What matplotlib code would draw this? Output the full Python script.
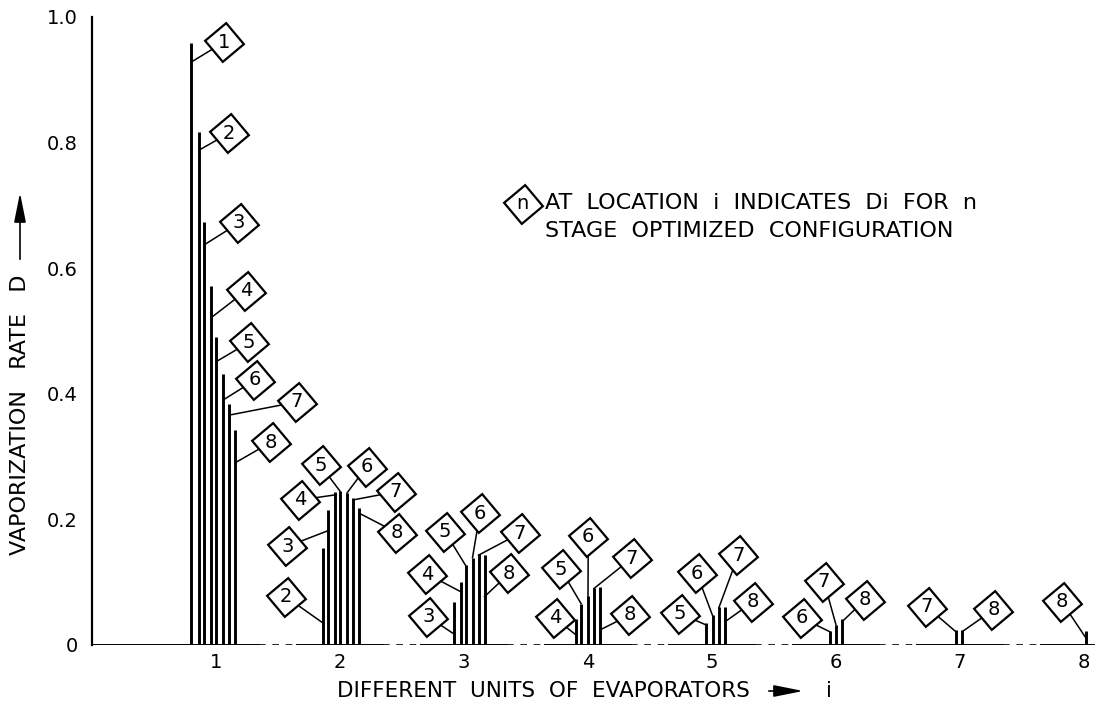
import matplotlib
matplotlib.use("Agg")
import matplotlib.pyplot as plt
from matplotlib.patches import FancyArrowPatch

# D_i for the n-stage optimized configuration (i = 1..n)
D_N1 = [0.959]
D_N2 = [0.817, 0.154]
D_N3 = [0.674, 0.215, 0.069]
D_N4 = [0.572, 0.244, 0.101, 0.042]
D_N5 = [0.490, 0.245, 0.127, 0.066, 0.035]
D_N6 = [0.432, 0.242, 0.139, 0.078, 0.047, 0.022]
D_N7 = [0.384, 0.234, 0.145, 0.090, 0.060, 0.032, 0.024]
D_N8 = [0.342, 0.218, 0.143, 0.093, 0.061, 0.042, 0.024, 0.022]
STAGES = [1, 2, 3, 4, 5, 6, 7, 8]
D_VALUES = [D_N1, D_N2, D_N3, D_N4, D_N5, D_N6, D_N7, D_N8]

X_TICKS = [1, 2, 3, 4, 5, 6, 7, 8]
Y_TICKS = [0, 0.2, 0.4, 0.6, 0.8, 1.0]
Y_TICKLABELS = ["0", "0.2", "0.4", "0.6", "0.8", "1.0"]

# layout: bar offsets inside a group (pixels), per n and per group
PX_UNIT = 124.0
N_OFF = {1: -25, 2: -17, 3: -12, 4: -5, 5: 0, 6: 7, 7: 13, 8: 19}
G_SHIFT = {1: 0, 2: 0, 3: 1.5, 4: -7, 5: -6, 6: -13, 7: -17, 8: -17}

# label diamond centre (x, y) and leader attach height, per (i, n)
LABELS = {
    (1, 1): (1.065, 0.960, 0.928), (1, 2): (1.105, 0.815, 0.788),
    (1, 3): (1.185, 0.672, 0.637), (1, 4): (1.242, 0.564, 0.521),
    (1, 5): (1.266, 0.482, 0.451), (1, 6): (1.315, 0.422, 0.390),
    (1, 7): (1.653, 0.387, 0.366), (1, 8): (1.444, 0.323, 0.290),
    (2, 2): (1.562, 0.077, 0.035), (2, 3): (1.575, 0.157, 0.182),
    (2, 4): (1.677, 0.231, 0.239), (2, 5): (1.844, 0.286, 0.245),
    (2, 6): (2.215, 0.284, 0.242), (2, 7): (2.452, 0.244, 0.231),
    (2, 8): (2.457, 0.179, 0.210),
    (3, 3): (2.712, 0.045, 0.018), (3, 4): (2.704, 0.113, 0.085),
    (3, 5): (2.847, 0.180, 0.127), (3, 6): (3.129, 0.210, 0.139),
    (3, 7): (3.452, 0.178, 0.143), (3, 8): (3.365, 0.114, 0.077),
    (4, 4): (3.734, 0.043, 0.016), (4, 5): (3.780, 0.121, 0.066),
    (4, 6): (4.002, 0.172, 0.077), (4, 7): (4.352, 0.138, 0.090),
    (4, 8): (4.339, 0.048, 0.024),
    (5, 5): (4.742, 0.050, 0.032), (5, 6): (4.877, 0.114, 0.045),
    (5, 7): (5.212, 0.143, 0.060), (5, 8): (5.333, 0.069, 0.037),
    (6, 6): (5.723, 0.043, 0.021), (6, 7): (5.903, 0.101, 0.032),
    (6, 8): (6.234, 0.072, 0.037),
    (7, 7): (6.731, 0.061, 0.021), (7, 8): (7.269, 0.056, 0.021),
    (8, 8): (7.820, 0.069, 0.011),
}

W, H = 1095, 710
plt.rcParams["font.family"] = ["DejaVu Sans"]


def fx(px):
    return px / W


def fy(py):
    return 1 - py / H


def diamond(ax, x, y, label):
    ax.plot(x, y, marker=(4, 0, -5), ms=28, mfc="white", mec="black",
            mew=1.6, zorder=4)
    ax.text(x, y, label, ha="center", va="center", fontsize=14, zorder=5)


fig = plt.figure(figsize=(W / 100, H / 100), dpi=100)
ax = fig.add_axes([fx(92), 65 / H, (W - 92) / W, 628 / H])
ax.set_xlim(0, (W - 92) / PX_UNIT)
ax.set_ylim(0, 1.0)

# bars, leaders and diamond labels
for n, vals in zip(STAGES, D_VALUES):
    for i, d in enumerate(vals, start=1):
        x = i + (N_OFF[n] + G_SHIFT[i]) / PX_UNIT
        ax.plot([x, x], [0, d], color="black", lw=2.1, solid_capstyle="butt", zorder=3)
        lx, ly, ay = LABELS[(i, n)]
        ay = min(ay, d)
        ax.plot([lx, x], [ly, ay], color="black", lw=1.1, zorder=2)
        diamond(ax, lx, ly, str(n))

# baseline: solid near the groups, dashed in between
ax.plot([0, 0.65], [0, 0], color="black", lw=1.4, zorder=1)
for i in X_TICKS:
    if i > 1:
        ax.plot([i - 0.65, i - 0.35], [0, 0], color="black", lw=1.2,
                ls=(0, (4, 4)), zorder=1)
    ax.plot([i - 0.35, i + 0.35 if i < 8 else 8.1], [0, 0], color="black",
            lw=1.4, zorder=1)

for s in ["top", "right", "bottom"]:
    ax.spines[s].set_visible(False)
ax.spines["left"].set_linewidth(1.6)
ax.set_xticks(X_TICKS)
ax.set_xticklabels([str(t) for t in X_TICKS], fontsize=14)
ax.set_yticks(Y_TICKS)
ax.set_yticklabels(Y_TICKLABELS, fontsize=14)
ax.tick_params(axis="both", length=0)
ax.tick_params(axis="x", pad=6)
ax.tick_params(axis="y", pad=10)

# axis titles with arrows
arrow_style = "-|>,head_length=0.9,head_width=0.18"
fig.text(fx(20), fy(555), "VAPORIZATION   RATE   D", rotation=90,
         ha="center", va="bottom", fontsize=16)
fig.add_artist(FancyArrowPatch(
    (fx(20), fy(262)), (fx(20), fy(190)), transform=fig.transFigure,
    arrowstyle=arrow_style, color="black", lw=1.2, mutation_scale=20))
fig.text(fx(337), fy(691), "DIFFERENT  UNITS  OF  EVAPORATORS",
         ha="left", va="center", fontsize=15.5)
fig.add_artist(FancyArrowPatch(
    (fx(766), fy(691)), (fx(806), fy(691)), transform=fig.transFigure,
    arrowstyle=arrow_style, color="black", lw=1.2, mutation_scale=20))
fig.text(fx(826), fy(691), "i", ha="left", va="center", fontsize=15.5)

# explanatory note
diamond(ax, 3.473, 0.703, "n")
fig.text(fx(545), fy(203), "AT  LOCATION  i  INDICATES  Di  FOR  n",
         ha="left", va="center", fontsize=16)
fig.text(fx(545), fy(231), "STAGE  OPTIMIZED  CONFIGURATION",
         ha="left", va="center", fontsize=16)

fig.savefig("out.png", dpi=100, facecolor="white")
